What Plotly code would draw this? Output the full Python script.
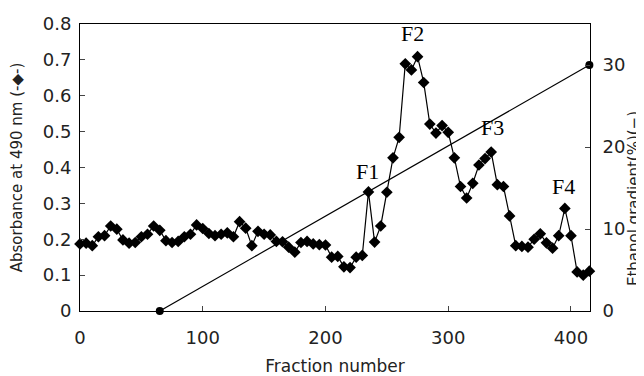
import plotly.graph_objects as go

fraction_step = 5
absorbance = [
    0.187, 0.189, 0.182, 0.207, 0.210, 0.237, 0.228, 0.198, 0.189, 0.191,
    0.207, 0.214, 0.237, 0.225, 0.196, 0.191, 0.194, 0.207, 0.214, 0.240,
    0.230, 0.216, 0.210, 0.214, 0.218, 0.207, 0.249, 0.231, 0.182, 0.222,
    0.214, 0.212, 0.194, 0.193, 0.178, 0.164, 0.191, 0.194, 0.187, 0.185,
    0.184, 0.150, 0.152, 0.123, 0.121, 0.150, 0.155, 0.332, 0.192, 0.237,
    0.331, 0.427, 0.484, 0.689, 0.672, 0.709, 0.637, 0.521, 0.496, 0.517,
    0.498, 0.427, 0.347, 0.315, 0.356, 0.407, 0.425, 0.443, 0.352, 0.347,
    0.265, 0.182, 0.180, 0.178, 0.200, 0.215, 0.190, 0.175, 0.210, 0.286,
    0.210, 0.109, 0.100, 0.111,
]
fractions = [i * fraction_step for i in range(len(absorbance))]

ethanol_x = [65, 415]
ethanol_y = [0, 30]

peak_labels = ["F1", "F2", "F3", "F4"]
peak_x = [234, 271, 336, 394]
peak_y = [0.388, 0.773, 0.512, 0.347]

x_ticks = [0, 100, 200, 300, 400]
y_ticks = [0, 0.1, 0.2, 0.3, 0.4, 0.5, 0.6, 0.7, 0.8]
y2_ticks = [0, 10, 20, 30]

fig = go.Figure()
fig.add_trace(go.Scatter(
    x=fractions, y=absorbance, mode="lines+markers",
    line=dict(color="black", width=1.2),
    marker=dict(symbol="diamond", size=9, color="black"),
    cliponaxis=False, showlegend=False))
fig.add_trace(go.Scatter(
    x=ethanol_x, y=ethanol_y, mode="lines+markers", yaxis="y2",
    line=dict(color="black", width=1.2),
    marker=dict(symbol="circle", size=8, color="black"),
    cliponaxis=False, showlegend=False))

for t, xx, yy in zip(peak_labels, peak_x, peak_y):
    fig.add_annotation(x=xx, y=yy, text=t, showarrow=False,
                       font=dict(family="Liberation Serif", size=22, color="black"))

fig.add_annotation(xref="paper", yref="paper", x=1.0, xanchor="center", xshift=44,
                   y=0.39, yanchor="middle", text="Ethanol gradient(%)(\u2212)",
                   textangle=-90, showarrow=False,
                   font=dict(family="DejaVu Sans", size=15, color="#222"))

tick_font = dict(family="DejaVu Sans", size=18, color="#222")
fig.update_layout(
    width=636, height=368,
    margin=dict(l=72, r=54, t=16, b=65, autoexpand=False),
    plot_bgcolor="white", paper_bgcolor="white",
    xaxis=dict(range=[0, 415.5], tickvals=x_ticks, ticks="inside", ticklen=5,
               showline=True, linecolor="black", linewidth=1, mirror=True,
               showgrid=False, zeroline=False, tickfont=tick_font,
               ticklabelstandoff=10, automargin=False,
               title=dict(text="Fraction number", font=dict(family="DejaVu Sans", size=17, color="#222"),
                          standoff=14)),
    yaxis=dict(range=[0, 0.8], tickvals=y_ticks, ticktext=[f"{v:g}" for v in y_ticks],
               ticks="inside", ticklen=5, ticklabelstandoff=4, automargin=False,
               showline=True, linecolor="black", linewidth=1,
               showgrid=False, zeroline=False, tickfont=tick_font,
               title=dict(text="Absorbance at 490 nm (-\u25c6-)",
                          font=dict(family="DejaVu Sans", size=15, color="#222"), standoff=16)),
    yaxis2=dict(range=[0, 35], tickvals=y2_ticks, overlaying="y", side="right",
                ticks="inside", ticklen=5, ticklabelstandoff=8, automargin=False,
                showline=True, linecolor="black", linewidth=1,
                showgrid=False, zeroline=False, tickfont=tick_font),
)

fig.write_html("out.html")
